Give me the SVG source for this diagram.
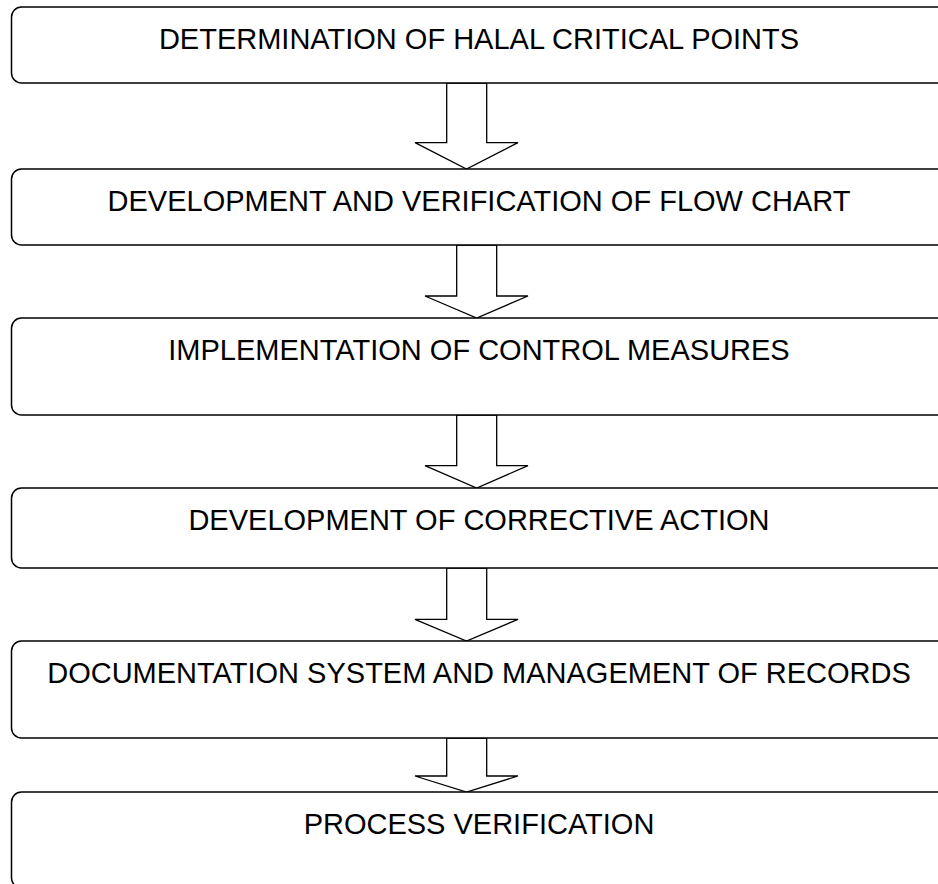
<svg xmlns="http://www.w3.org/2000/svg" width="938" height="884" viewBox="0 0 938 884">
<style>
.box{fill:#fff;stroke:#000;stroke-width:1.5}
.arr{fill:#fff;stroke:#000;stroke-width:1.3;stroke-linejoin:miter}
.lbl{font-family:"Liberation Sans",Arial,sans-serif;font-size:29px;fill:#000;text-anchor:middle}
</style>
<rect width="938" height="884" fill="#fff"/>
<g id="connectors">
<polygon class="arr" points="446.7,83 486.7,83 486.7,142.7 518,142.7 466.5,169 415,142.7 446.7,142.7"/>
<polygon class="arr" points="456.7,245 496.7,245 496.7,296 528,296 476.7,318 425,296 456.7,296"/>
<polygon class="arr" points="456.7,415 496.7,415 496.7,465.7 528,465.7 476.7,488 425,465.7 456.7,465.7"/>
<polygon class="arr" points="446.7,568 486.7,568 486.7,619.3 518,619.3 466.5,641 415,619.3 446.7,619.3"/>
<polygon class="arr" points="446.7,738 486.7,738 486.7,776 518,776 466.5,792 415,776 446.7,776"/>
</g>
<g id="node1">
<rect class="box" x="11.5" y="7" width="935" height="76" rx="10"/>
<text class="lbl" x="479" y="48.5">DETERMINATION OF HALAL CRITICAL POINTS</text>
</g>
<g id="node2">
<rect class="box" x="11.5" y="169" width="935" height="76" rx="10"/>
<text class="lbl" x="479" y="210.5">DEVELOPMENT AND VERIFICATION OF FLOW CHART</text>
</g>
<g id="node3">
<rect class="box" x="11.5" y="318" width="935" height="97" rx="10"/>
<text class="lbl" x="479" y="359.5">IMPLEMENTATION OF CONTROL MEASURES</text>
</g>
<g id="node4">
<rect class="box" x="11.5" y="488" width="935" height="80" rx="10"/>
<text class="lbl" x="479" y="529.5">DEVELOPMENT OF CORRECTIVE ACTION</text>
</g>
<g id="node5">
<rect class="box" x="11.5" y="641" width="935" height="97" rx="10"/>
<text class="lbl" x="479" y="682.5">DOCUMENTATION SYSTEM AND MANAGEMENT OF RECORDS</text>
</g>
<g id="node6">
<rect class="box" x="11.5" y="792" width="935" height="96" rx="10"/>
<text class="lbl" x="479" y="833.5">PROCESS VERIFICATION</text>
</g>
</svg>
